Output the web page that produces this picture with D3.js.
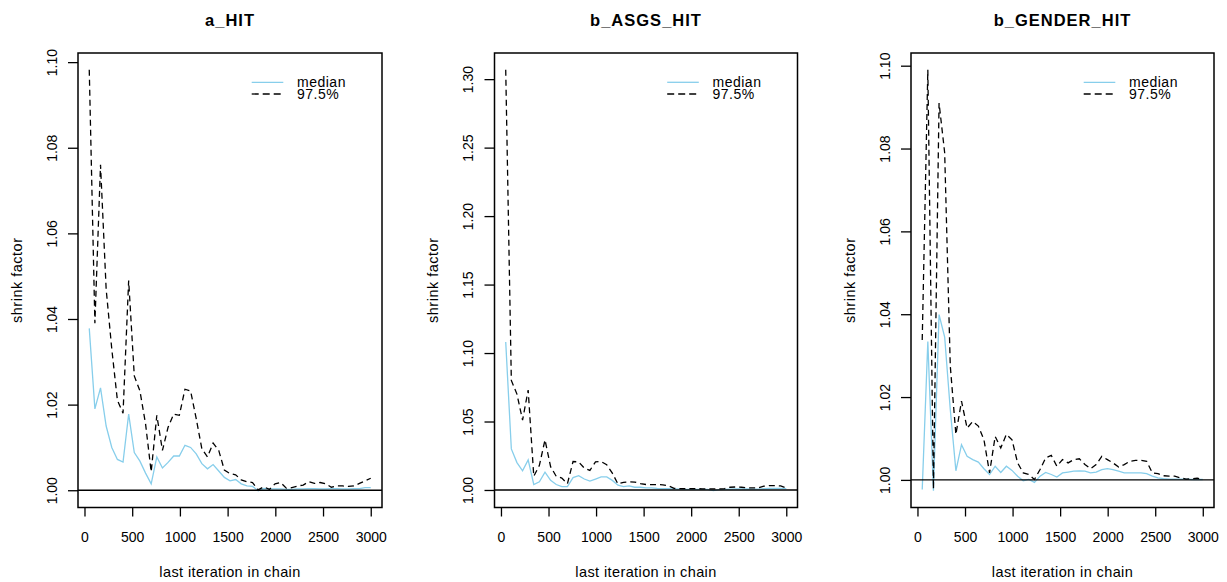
<!DOCTYPE html>
<html><head><meta charset="utf-8">
<script src="https://cdn.jsdelivr.net/npm/d3@7"></script>
<style>
body{margin:0;background:#fff}
svg{display:block}
text{font-family:"Liberation Sans",Arial,Helvetica,sans-serif;fill:#000}
</style>
</head><body>
<svg id="chart" width="1227" height="582"></svg>
<script>
// ---- data ----
const iterations = [50,109,168,227,286,345,404,463,522,581,640,699,758,817,876,935,994,1053,1112,1171,1230,1289,1348,1407,1466,1525,1584,1643,1702,1761,1820,1879,1938,1997,2056,2115,2174,2233,2292,2351,2410,2469,2528,2587,2646,2705,2764,2823,2882,2941,3000];

const titles = ["a_HIT", "b_ASGS_HIT", "b_GENDER_HIT"];

const medianA = [1.0378,1.0190,1.0239,1.0150,1.0100,1.0072,1.0066,1.0178,1.0088,1.0068,1.0040,1.0015,1.0078,1.0052,1.0065,1.0080,1.0080,1.0105,1.0100,1.0085,1.0062,1.0050,1.0060,1.0045,1.0030,1.0022,1.0025,1.0015,1.0010,1.0009,0.9999,1.0004,1.0003,1.0003,1.0003,1.0002,1.0002,1.0003,1.0003,1.0004,1.0004,1.0003,1.0003,1.0004,1.0004,1.0003,1.0003,1.0004,1.0004,1.0006,1.0006];
const upperA  = [1.0982,1.0390,1.0760,1.0470,1.0330,1.0210,1.0180,1.0490,1.0267,1.0232,1.0155,1.0043,1.0175,1.0093,1.0147,1.0178,1.0175,1.0236,1.0232,1.0167,1.0097,1.0078,1.0110,1.0093,1.0047,1.0039,1.0036,1.0024,1.0020,1.0018,1.0001,1.0008,1.0002,1.0015,1.0018,1.0005,1.0006,1.0010,1.0012,1.0020,1.0016,1.0018,1.0015,1.0007,1.0010,1.0010,1.0009,1.0010,1.0016,1.0022,1.0028];

const medianB = [1.1080,1.0300,1.0200,1.0140,1.0220,1.0040,1.0060,1.0130,1.0070,1.0040,1.0025,1.0025,1.0090,1.0105,1.0080,1.0065,1.0080,1.0095,1.0095,1.0070,1.0035,1.0025,1.0030,1.0020,1.0020,1.0015,1.0015,1.0012,1.0010,1.0010,1.0008,1.0006,1.0005,1.0005,1.0005,1.0004,1.0004,0.9995,1.0003,1.0004,1.0006,1.0008,1.0008,1.0007,1.0006,1.0006,1.0010,1.0012,1.0012,1.0012,1.0010];
const upperB  = [1.3068,1.0800,1.0700,1.0510,1.0730,1.0100,1.0180,1.0366,1.0170,1.0100,1.0087,1.0046,1.0208,1.0205,1.0160,1.0143,1.0205,1.0208,1.0184,1.0123,1.0044,1.0056,1.0060,1.0058,1.0046,1.0040,1.0039,1.0039,1.0038,1.0030,1.0012,1.0010,1.0010,1.0010,1.0010,1.0008,1.0008,1.0008,1.0008,1.0010,1.0020,1.0022,1.0020,1.0015,1.0015,1.0015,1.0028,1.0032,1.0032,1.0030,1.0015];

const medianC = [0.9977,1.0334,0.9974,1.0399,1.0345,1.0170,1.0022,1.0085,1.0057,1.0049,1.0043,1.0027,1.0013,1.0033,1.0018,1.0033,1.0023,1.0009,0.9998,1.0001,0.9994,1.0009,1.0018,1.0013,1.0007,1.0017,1.0019,1.0021,1.0022,1.0021,1.0017,1.0019,1.0025,1.0027,1.0025,1.0021,1.0017,1.0017,1.0017,1.0017,1.0015,1.0009,1.0005,1.0003,1.0002,1.0002,1.0002,1.0002,1.0001,1.0001,1.0001];
const upperC  = [1.0338,1.0990,0.9978,1.0910,1.0790,1.0275,1.0110,1.0190,1.0125,1.0141,1.0130,1.0097,1.0017,1.0105,1.0077,1.0110,1.0097,1.0041,1.0017,1.0013,1.0001,1.0025,1.0053,1.0059,1.0033,1.0049,1.0041,1.0049,1.0051,1.0037,1.0027,1.0037,1.0057,1.0049,1.0041,1.0031,1.0037,1.0045,1.0047,1.0047,1.0045,1.0017,1.0015,1.0010,1.0009,1.0009,1.0005,1.0002,1.0003,1.0004,1.0001];

const yTicksA = [1.00,1.02,1.04,1.06,1.08,1.10];
const yTicksB = [1.00,1.05,1.10,1.15,1.20,1.25,1.30];
const yTicksC = [1.00,1.02,1.04,1.06,1.08,1.10];
const xTicks  = [0,500,1000,1500,2000,2500,3000];
const legendLabels = ["median", "97.5%"];
const xLabel = "last iteration in chain";
const yLabel = "shrink factor";

// ---- layout ----
const panels = [
  {title: titles[0], median: medianA, upper: upperA, yTicks: yTicksA, left: 78,    right: 382},
  {title: titles[1], median: medianB, upper: upperB, yTicks: yTicksB, left: 494.5, right: 797.5},
  {title: titles[2], median: medianC, upper: upperC, yTicks: yTicksC, left: 911,   right: 1214}
];
const boxTop = 53, boxBottom = 507.5;
const medianColor = "#87CEEB";
const svg = d3.select("#chart");

function padded(ext) {
  const p = 0.04 * (ext[1] - ext[0]);
  return [ext[0] - p, ext[1] + p];
}

panels.forEach((p, i) => {
  const g = svg.append("g");
  const x = d3.scaleLinear().domain(padded(d3.extent(iterations))).range([p.left, p.right]);
  const y = d3.scaleLinear().domain(padded(d3.extent(p.median.concat(p.upper)))).range([boxBottom, boxTop]);

  const clipId = "clip" + i;
  svg.append("clipPath").attr("id", clipId).append("rect")
    .attr("x", p.left).attr("y", boxTop).attr("width", p.right - p.left).attr("height", boxBottom - boxTop);

  const plot = g.append("g").attr("clip-path", `url(#${clipId})`);
  const line = d3.line().x((d, k) => x(iterations[k])).y(d => y(d));

  plot.append("path").datum(p.median).attr("d", line)
    .attr("fill", "none").attr("stroke", medianColor).attr("stroke-width", 1.3);
  plot.append("path").datum(p.upper).attr("d", line)
    .attr("fill", "none").attr("stroke", "#000").attr("stroke-width", 1.3)
    .attr("stroke-dasharray", "6,4");
  // reference line at 1
  plot.append("line").attr("x1", p.left).attr("x2", p.right)
    .attr("y1", y(1)).attr("y2", y(1)).attr("stroke", "#000").attr("stroke-width", 1.4);

  // box
  g.append("rect").attr("x", p.left).attr("y", boxTop)
    .attr("width", p.right - p.left).attr("height", boxBottom - boxTop)
    .attr("fill", "none").attr("stroke", "#000").attr("stroke-width", 1.5);

  // y axis
  const ya = g.append("g").attr("transform", `translate(${p.left},0)`)
    .call(d3.axisLeft(y).tickValues(p.yTicks).tickSize(10).tickFormat(d3.format(".2f")));
  ya.select(".domain").remove();
  ya.selectAll(".tick line").attr("stroke", "#000").attr("stroke-width", 1.3);
  ya.selectAll(".tick text")
    .attr("x", null).attr("dy", null)
    .attr("transform", "translate(-21.3,0) rotate(-90)")
    .attr("text-anchor", "middle")
    .style("font-size", "14px").style("font-family", '"Liberation Sans",Arial,sans-serif');

  // x axis
  const xa = g.append("g").attr("transform", `translate(0,${boxBottom})`)
    .call(d3.axisBottom(x).tickValues(xTicks).tickSize(9).tickFormat(d3.format("d")));
  xa.select(".domain").remove();
  xa.selectAll(".tick line").attr("stroke", "#000").attr("stroke-width", 1.3);
  xa.selectAll(".tick text")
    .attr("y", 34).attr("dy", null)
    .style("font-size", "14px").style("font-family", '"Liberation Sans",Arial,sans-serif');

  const cx = (p.left + p.right) / 2;
  // title
  g.append("text").attr("x", cx).attr("y", 25.5).attr("text-anchor", "middle")
    .style("font-size", "16.5px").style("font-weight", "bold").style("letter-spacing", "1px")
    .text(p.title);
  // x label
  g.append("text").attr("x", cx).attr("y", 576.5).attr("text-anchor", "middle")
    .style("font-size", "14.5px").style("letter-spacing", "0.4px").text(xLabel);
  // y label
  g.append("text").attr("transform", `translate(${p.left - 56.3},${(boxTop + boxBottom) / 2}) rotate(-90)`)
    .attr("text-anchor", "middle").style("font-size", "14.5px").style("letter-spacing", "0.5px").text(yLabel);

  // legend
  const lx1 = p.right - 130.3, lx2 = p.right - 98.7, tx = p.right - 85;
  const ly = [82.3, 94];
  g.append("line").attr("x1", lx1).attr("x2", lx2).attr("y1", ly[0]).attr("y2", ly[0])
    .attr("stroke", medianColor).attr("stroke-width", 1.3);
  g.append("line").attr("x1", lx1).attr("x2", lx2).attr("y1", ly[1]).attr("y2", ly[1])
    .attr("stroke", "#000").attr("stroke-width", 1.3).attr("stroke-dasharray", "7,4");
  legendLabels.forEach((lab, k) => {
    g.append("text").attr("x", tx).attr("y", ly[k] + 4.6)
      .style("font-size", "14px").style("letter-spacing", "0.5px").text(lab);
  });
});
</script>
</body></html>
